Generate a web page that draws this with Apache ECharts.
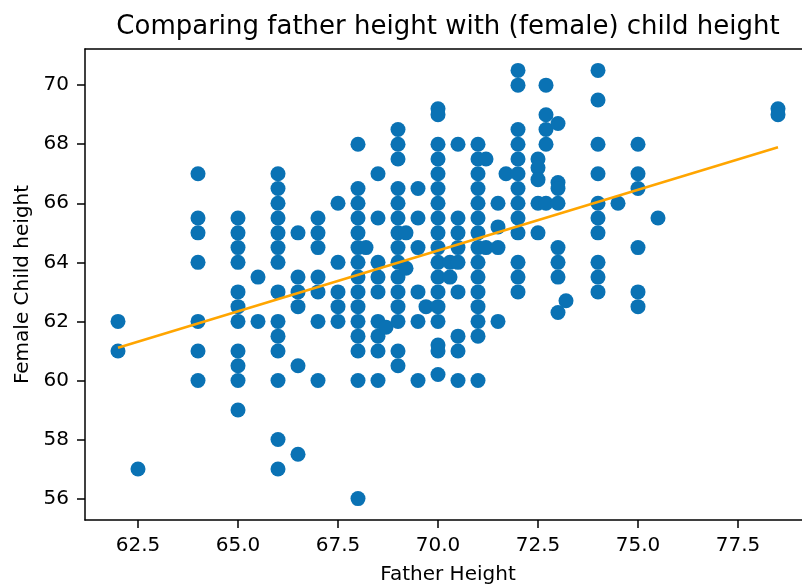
<!DOCTYPE html>
<html>
<head>
<meta charset="utf-8">
<script src="https://cdn.jsdelivr.net/npm/echarts@6/dist/echarts.min.js"></script>
<style>
html,body{margin:0;padding:0;background:#fff;overflow:hidden;width:802px;height:586px;}
#chart{width:830px;height:586px;}
</style>
</head>
<body>
<div id="chart"></div>
<script>
// Father heights (x) and the daughters' heights observed at each
const fatherHeights = [62, 62.5, 64, 65, 65.5, 66, 66.5, 67, 67.5, 68, 68.2, 68.5, 68.7, 69, 69.2, 69.5, 69.7, 70, 70.3, 70.5, 71, 71.2, 71.5, 71.7, 72, 72.5, 72.7, 73, 73.2, 74, 74.5, 75, 75.5, 78.5];
const daughterHeights = [
  [62, 61],
  [57],
  [67, 65.5, 65, 64, 62, 61, 60],
  [65.5, 65, 64.5, 64, 63, 62.5, 62, 61, 60.5, 60, 59],
  [63.5, 62],
  [67, 66.5, 66, 65.5, 65, 64.5, 64, 63, 62, 61.5, 61, 60, 58, 57],
  [65, 63.5, 63, 62.5, 60.5, 57.5],
  [65.5, 65, 64.5, 63.5, 63, 62, 60],
  [66, 64, 63, 62.5, 62],
  [68, 66.5, 66, 65.5, 65, 64.5, 64, 63.5, 63, 62.5, 62, 61.5, 61, 60, 56],
  [64.5],
  [67, 65.5, 64, 63.5, 63, 62, 61.5, 61, 60],
  [61.8],
  [68.5, 68, 67.5, 66.5, 66, 65.5, 65, 64.5, 64, 63.5, 63, 62.5, 62, 61, 60.5],
  [65, 63.8],
  [66.5, 65.5, 64.5, 63, 62, 60],
  [62.5],
  [69.2, 69, 68, 67.5, 67, 66.5, 66, 65.5, 65, 64.5, 64, 63.5, 63, 62.5, 62, 61.2, 61, 60.2],
  [64, 63.5],
  [68, 65.5, 65, 64.5, 64, 63, 61.5, 61, 60],
  [68, 67.5, 67, 66.5, 66, 65.5, 65, 64.5, 64, 63.5, 63, 62.5, 62, 61.5, 60],
  [67.5, 64.5],
  [66, 65.2, 64.5, 62],
  [67],
  [70.5, 70, 68.5, 68, 67.5, 67, 66.5, 66, 65.5, 65, 64, 63.5, 63],
  [67.5, 67.2, 66.8, 66, 65],
  [70, 69, 68.5, 68, 66],
  [68.7, 66.7, 66.5, 66, 64.5, 64, 63.5, 62.3],
  [62.7],
  [70.5, 69.5, 68, 67, 66, 65.5, 65, 64, 63.5, 63],
  [66],
  [68, 67, 66.5, 64.5, 63, 62.5],
  [65.5],
  [69.2, 69]
];
// Fitted line end points
const fitX = [62, 78.5];
const fitY = [61.11, 67.90];
// Tick values
const xTicks = [62.5, 65, 67.5, 70, 72.5, 75, 77.5];
const yTicks = [56, 58, 60, 62, 64, 66, 68, 70];

const points = [];
fatherHeights.forEach((f, i) => daughterHeights[i].forEach(d => points.push([f, d])));
const fitLine = fitX.map((x, i) => [x, fitY[i]]);

const FONT = 'DejaVu Sans';
const X_MIN = 61.175, X_MAX = 79.325, Y_MIN = 55.275, Y_MAX = 71.225;
const chart = echarts.init(document.getElementById('chart'), null, {renderer: 'canvas'});
chart.setOption({
  animation: false,
  backgroundColor: '#ffffff',
  title: {
    text: 'Comparing father height with (female) child height',
    left: 443, top: 9, textAlign: 'center',
    textStyle: {fontFamily: FONT, fontSize: 26, fontWeight: 'normal', color: '#000'}
  },
  grid: {
    left: 85, top: 49, width: 726, height: 471,
    show: false, containLabel: false, outerBoundsMode: 'none'
  },
  graphic: [{
    type: 'rect', silent: true, z: 100,
    shape: {x: 795, y: 52, width: 40, height: 465},
    style: {fill: '#ffffff'}
  }],
  xAxis: [{
    type: 'value', min: X_MIN, max: X_MAX, position: 'bottom',
    name: 'Father Height', nameLocation: 'middle', nameGap: 45,
    nameTextStyle: {fontFamily: FONT, fontSize: 20, color: '#000'},
    splitLine: {show: false},
    axisLine: {show: true, onZero: false, lineStyle: {color: '#000', width: 1.5}},
    axisTick: {show: true, inside: false, length: 8, customValues: xTicks, lineStyle: {color: '#000', width: 1.5}},
    axisLabel: {show: true, margin: 16, customValues: xTicks, fontFamily: FONT, fontSize: 20, color: '#000',
      formatter: v => Number(v).toFixed(1)}
  }, {
    type: 'value', min: X_MIN, max: X_MAX, position: 'top',
    splitLine: {show: false},
    axisLine: {show: true, onZero: false, lineStyle: {color: '#000', width: 1.5}},
    axisTick: {show: false}, axisLabel: {show: false}
  }],
  yAxis: {
    type: 'value', min: Y_MIN, max: Y_MAX,
    name: 'Female Child height', nameLocation: 'middle', nameGap: 52, nameRotate: 90,
    nameTextStyle: {fontFamily: FONT, fontSize: 20, color: '#000'},
    splitLine: {show: false},
    axisLine: {show: true, onZero: false, lineStyle: {color: '#000', width: 1.5}},
    axisTick: {show: true, inside: false, length: 8, customValues: yTicks, lineStyle: {color: '#000', width: 1.5}},
    axisLabel: {show: true, margin: 16, customValues: yTicks, fontFamily: FONT, fontSize: 20, color: '#000',
      formatter: v => String(Math.round(v))}
  },
  series: [
    {
      type: 'scatter', data: points, symbol: 'circle', symbolSize: 15,
      itemStyle: {color: '#0a72b4', opacity: 1}, z: 2, silent: true
    },
    {
      type: 'line', data: fitLine, showSymbol: false, symbol: 'none',
      lineStyle: {color: '#ffa500', width: 2.5}, z: 3, silent: true
    }
  ]
});
</script>
</body>
</html>
